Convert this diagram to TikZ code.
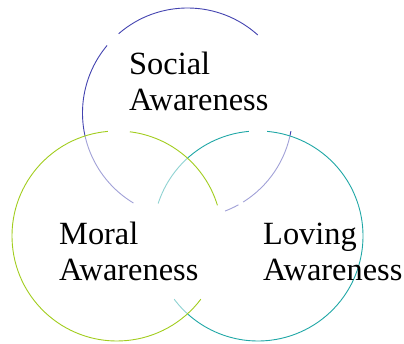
\documentclass[tikz,border=0pt]{standalone}
\usepackage{fontspec}
\setmainfont{Liberation Serif}
\definecolor{socialblue}{HTML}{4343B0}
\definecolor{moralgreen}{HTML}{A2CD1E}
\definecolor{lovingteal}{HTML}{1FA7A6}
\tikzset{
  ring/.style={line width=0.9pt},
  veil/.style={fill=white, fill opacity=0.5},
  vennlabel/.style={align=left, anchor=base west, inner sep=0pt,
    font=\fontsize{32.4}{36}\selectfont}
}

\begin{document}
\begin{tikzpicture}[x=1pt, y=1pt]
  \useasboundingbox (0,0) rectangle (404,344);
  % circle centres
  \coordinate (s) at (187.5,231);
  \coordinate (m) at (117,108);
  \coordinate (l) at (258,108);
  % social ring
  \foreach \a/\b in {48/131, 140/239, -69/-61, -58/-10}
    \draw[ring, socialblue] (s) ++(\a:105pt) arc[start angle=\a, end angle=\b, radius=105pt];
  % loving ring, lightens what is under it
  \fill[veil] (l) circle[radius=105pt];
  \foreach \a/\b in {-38/17, 17/85, 95/162, 217/322}
    \draw[ring, lovingteal] (l) ++(\a:105pt) arc[start angle=\a, end angle=\b, radius=105pt];
  % moral ring on top
  \fill[veil] (m) circle[radius=105pt];
  \foreach \a/\b in {17/83, 95/323}
    \draw[ring, moralgreen] (m) ++(\a:105pt) arc[start angle=\a, end angle=\b, radius=105pt];
  % labels (base = last line)
  \node[vennlabel] (social) at (129,233) {Social\\Awareness};
  \node[vennlabel] (moral) at (59,63) {Moral\\Awareness};
  \node[vennlabel] (loving) at (263,63) {Loving\\Awareness};
\end{tikzpicture}
\end{document}
